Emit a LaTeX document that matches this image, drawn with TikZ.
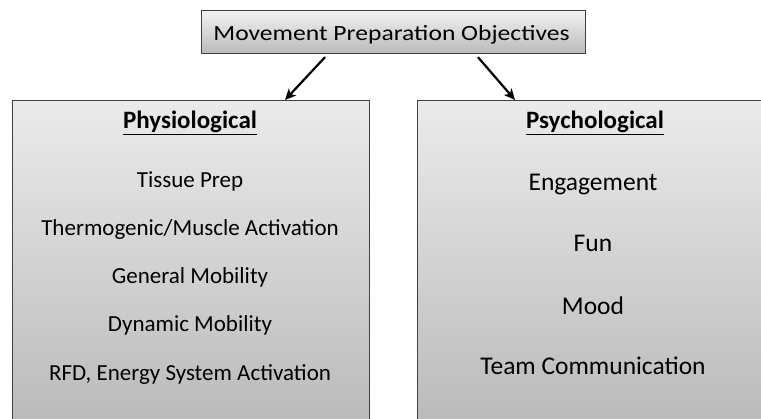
\documentclass[tikz,border=0pt]{standalone}
\usepackage{fontspec}
\setmainfont{Carlito}
\usetikzlibrary{arrows.meta}
\tikzset{
  boxstyle/.style={draw=black!75, line width=1.2pt, top color=black!5, bottom color=black!27, inner sep=0pt, anchor=north west},
  bigbox/.style={draw=black!75, line width=1.2pt, top color=black!8, bottom color=black!28, inner sep=0pt, anchor=north west},
  arr/.style={line width=2.2pt, -{Stealth[length=11pt,width=10pt,inset=3pt]}},
  lbl/.style={anchor=base, inner sep=0pt, text=black},
}
\begin{document}
\begin{tikzpicture}[x=1pt,y=-1pt]
\useasboundingbox (0,0) rectangle (761,419);
\fill[white] (0,0) rectangle (761,419);
\node[boxstyle, minimum width=384pt, minimum height=43pt] (top) at (201,10) {};
\node[lbl] (toptext) at (391.5,41) {\fontsize{21.7}{26}\selectfont\scalebox{1.18}[1]{Movement Preparation Objectives}};
\node[bigbox, minimum width=357pt, minimum height=340pt] (phys) at (12,100) {};
\node[bigbox, minimum width=360pt, minimum height=340pt] (psych) at (417,100) {};
\draw[arr] ([xshift=124pt,yshift=-3pt]top.south west) -- ([xshift=273pt]phys.north west);
\draw[arr] ([xshift=277pt,yshift=-3pt]top.south west) -- ([xshift=98pt]psych.north west);
% left column
\node[lbl] (h1) at (190,129) {\fontsize{25}{30}\selectfont\bfseries\underline{Physiological}};
\node[lbl] (l1) at (190,188) {\fontsize{23}{28}\selectfont Tissue Prep};
\node[lbl] (l2) at (190,236) {\fontsize{23}{28}\selectfont Thermogenic/Muscle Activation};
\node[lbl] (l3) at (190,284) {\fontsize{23}{28}\selectfont General Mobility};
\node[lbl] (l4) at (190,332) {\fontsize{23}{28}\selectfont Dynamic Mobility};
\node[lbl] (l5) at (190,381) {\fontsize{23}{28}\selectfont RFD, Energy System Activation};
% right column
\node[lbl] (h2) at (595,129) {\fontsize{25}{30}\selectfont\bfseries\underline{Psychological}};
\node[lbl] (r1) at (593,191) {\fontsize{25.5}{30}\selectfont Engagement};
\node[lbl] (r2) at (593,252) {\fontsize{25.5}{30}\selectfont Fun};
\node[lbl] (r3) at (593,315) {\fontsize{25.5}{30}\selectfont Mood};
\node[lbl] (r4) at (593,375) {\fontsize{25.5}{30}\selectfont Team Communication};
\end{tikzpicture}
\end{document}
